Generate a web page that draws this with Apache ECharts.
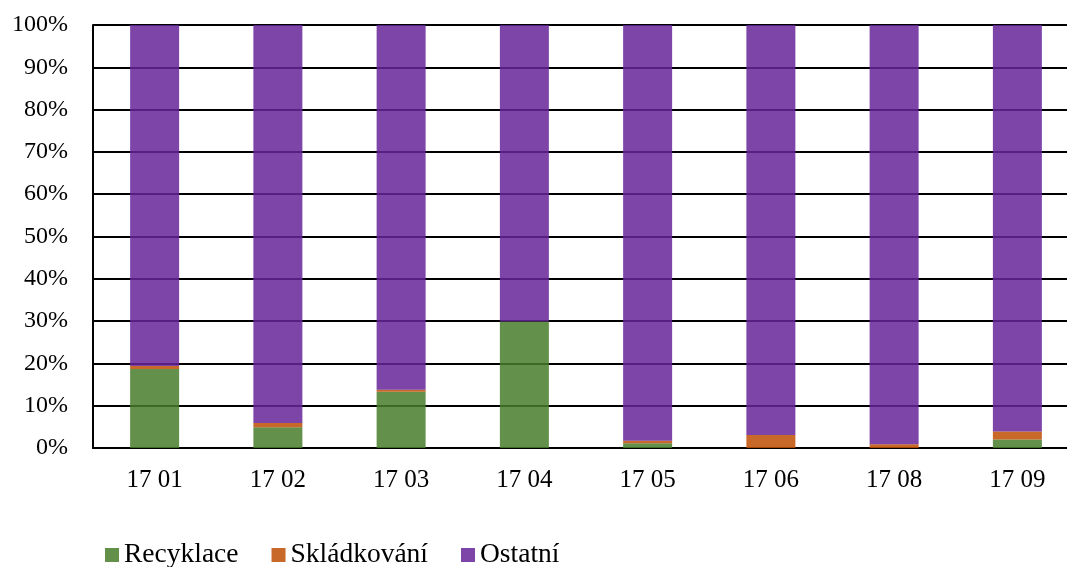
<!DOCTYPE html>
<html>
<head>
<meta charset="utf-8">
<script src="https://cdn.jsdelivr.net/npm/echarts@6/dist/echarts.min.js"></script>
<style>
  html, body { margin: 0; padding: 0; background: #fff; }
  #chart { width: 1067px; height: 567px; }
</style>
</head>
<body>
<div id="chart"></div>
<script>
// kategorie a podíly (%)
var categories = ['17 01', '17 02', '17 03', '17 04', '17 05', '17 06', '17 08', '17 09'];
var recyklace = [18.7, 4.9, 13.3, 29.9, 1.1, 0.0, 0.0, 2.0];
var skladkovani = [0.7, 1.0, 0.5, 0.0, 0.6, 3.1, 0.9, 1.9];
var ostatni = [80.6, 94.1, 86.2, 70.1, 98.3, 96.9, 99.1, 96.1];
var yTicks = [0, 10, 20, 30, 40, 50, 60, 70, 80, 90, 100];

var myChart = echarts.init(document.getElementById('chart'));
var font = 'Liberation Serif';

function barSeries(name, data, color) {
  return {
    name: name,
    type: 'bar',
    stack: 'total',
    barWidth: 49,
    data: data,
    itemStyle: {
      color: color,
      opacity: 0.85
    }
  };
}

var option = {
  animation: false,
  grid: {
    left: 93,
    width: 986,
    top: 25,
    bottom: 119,
    containLabel: false,
    outerBoundsMode: 'none'
  },
  legend: {
    left: 100,
    top: 536,
    itemWidth: 14,
    itemHeight: 14,
    itemGap: 33,
    icon: 'rect',
    textStyle: { fontFamily: font, fontSize: 27.5, color: '#000' },
    data: ['Recyklace', 'Skládkování', 'Ostatní']
  },
  xAxis: {
    type: 'category',
    data: categories,
    axisLine: { lineStyle: { color: '#000', width: 2 } },
    axisTick: { show: false },
    axisLabel: {
      margin: 20,
      fontFamily: font,
      fontSize: 25,
      color: '#000'
    }
  },
  yAxis: {
    type: 'value',
    min: yTicks[0],
    max: yTicks[yTicks.length - 1],
    interval: 10,
    axisLine: { show: true, lineStyle: { color: '#000', width: 2 } },
    axisTick: { show: false },
    splitLine: { lineStyle: { color: '#000', width: 2 } },
    axisLabel: {
      margin: 25,
      fontFamily: font,
      fontSize: 24,
      color: '#000',
      formatter: '{value}%'
    }
  },
  series: [
    barSeries('Recyklace', recyklace, '#487c2a'),
    barSeries('Skládkování', skladkovani, '#be4e04'),
    barSeries('Ostatní', ostatni, '#672599')
  ]
};

myChart.setOption(option, true);
window.addEventListener('resize', function () {
  myChart.resize();
});
</script>
</body>
</html>
